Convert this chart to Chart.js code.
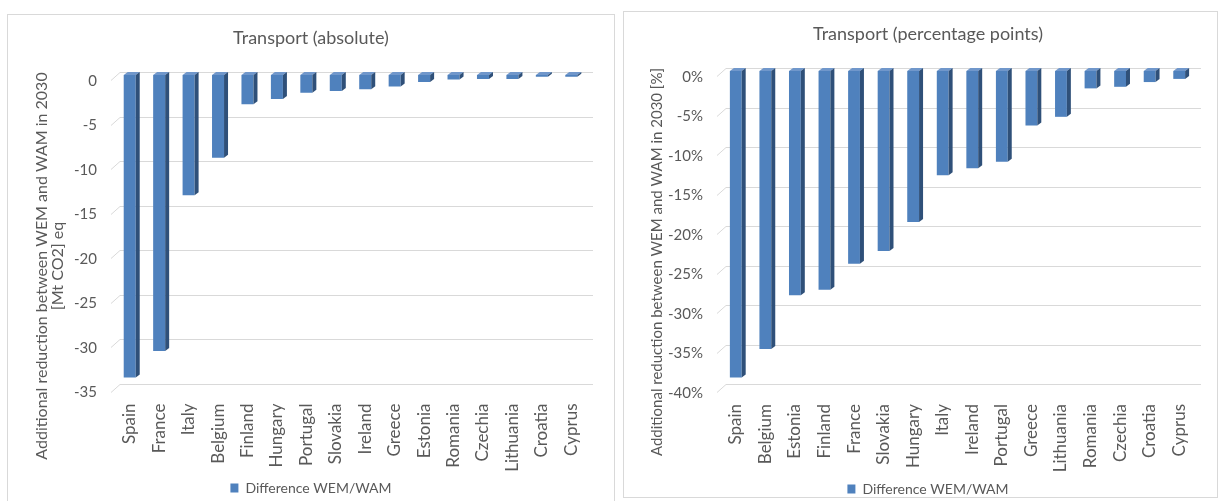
<!DOCTYPE html>
<html>
<head>
<meta charset="utf-8">
<title>Transport – additional reduction WEM/WAM 2030</title>
<script src="https://cdn.jsdelivr.net/npm/chart.js@4.4.1/dist/chart.umd.min.js"></script>
<style>
  html, body { margin: 0; padding: 0; background: #fff; }
  body { width: 1221px; height: 501px; overflow: hidden; position: relative; }
  .panel { position: absolute; border: 1px solid #d9d9d9; background: #fff; box-sizing: border-box; overflow: hidden; }
  #panelAbs { left: 7px; top: 14px; width: 608px; height: 494px; }
  #panelPct { left: 623px; top: 11px; width: 595px; height: 487px; }
  .panel > div { position: relative; }
  #panelAbs > div { width: 606px; height: 490px; }
  #panelPct > div { width: 593px; height: 494px; }
  canvas { display: block; }
</style>
</head>
<body>
<div class="panel" id="panelAbs"><div><canvas id="chartAbs"></canvas></div></div>
<div class="panel" id="panelPct"><div><canvas id="chartPct"></canvas></div></div>

<script>
// ---- data: absolute reduction [Mt CO2 eq] ----
const absCountries = ['Spain', 'France', 'Italy', 'Belgium', 'Finland', 'Hungary', 'Portugal', 'Slovakia',
  'Ireland', 'Greece', 'Estonia', 'Romania', 'Czechia', 'Lithuania', 'Croatia', 'Cyprus'];
const absValues = [-34.0, -31.0, -13.5, -9.3, -3.3, -2.7, -2.0, -1.8, -1.6, -1.3, -0.8, -0.5, -0.45, -0.45, -0.2, -0.2];
const absTickMin = -35;
const absTickMax = 0;
const absTickStep = 5;

// ---- data: reduction in percentage points ----
const pctCountries = ['Spain', 'Belgium', 'Estonia', 'Finland', 'France', 'Slovakia', 'Hungary', 'Italy',
  'Ireland', 'Portugal', 'Greece', 'Lithuania', 'Romania', 'Czechia', 'Croatia', 'Cyprus'];
const pctValues = [-38.8, -35.2, -28.4, -27.7, -24.4, -22.8, -19.1, -13.2, -12.3, -11.5, -6.9, -5.8, -2.2, -2.0, -1.4, -1.0];
const pctTickMin = -40;
const pctTickMax = 0;
const pctTickStep = 5;

const seriesName = 'Difference WEM/WAM';
const absTitle = 'Transport (absolute)';
const pctTitle = 'Transport (percentage points)';
const absAxisTitle = ['Additional reduction between WEM and WAM in 2030', '[Mt CO2] eq'];
const pctAxisTitle = ['Additional reduction between WEM and WAM in 2030 [%]'];

// ---- styling ----
const FONT = 'Lato, "Open Sans", sans-serif';
const TEXT = '#595959';
const GRID = '#d9d9d9';
const FRONT = '#4F81BD';
const SIDE = '#2F5079';
const TOP = '#7097CB';
const DX = 4, DY = 3;   // depth of the pseudo-3D columns

// back-wall gridlines with the slanted floor edge on the left
const backGrid = {
  id: 'backGrid',
  beforeDatasetsDraw(chart) {
    const { ctx, chartArea, scales: { y } } = chart;
    ctx.save();
    ctx.strokeStyle = GRID;
    ctx.lineWidth = 1;
    y.ticks.forEach(t => {
      const py = Math.round(y.getPixelForValue(t.value) - DY) + 0.5;
      ctx.beginPath();
      ctx.moveTo(chartArea.left - 4, py + 8);
      ctx.lineTo(chartArea.left + 5, py);
      ctx.lineTo(chartArea.right + 7, py);
      ctx.stroke();
    });
    ctx.restore();
  }
};

// side and top faces for each column
const bar3d = {
  id: 'bar3d',
  afterDatasetsDraw(chart) {
    const { ctx } = chart;
    chart.getSortedVisibleDatasetMetas().forEach(meta => {
      meta.data.forEach(el => {
        const { x, y, base, width } = el.getProps(['x', 'y', 'base', 'width'], true);
        const L = x - width / 2, R = x + width / 2;
        const top = Math.min(y, base), bot = Math.max(y, base);
        ctx.save();
        // top face
        ctx.fillStyle = TOP;
        ctx.beginPath();
        ctx.moveTo(L, top);
        ctx.lineTo(L + DX, top - DY);
        ctx.lineTo(R + DX, top - DY);
        ctx.lineTo(R, top);
        ctx.closePath();
        ctx.fill();
        // right side face
        ctx.fillStyle = SIDE;
        ctx.beginPath();
        ctx.moveTo(R, top);
        ctx.lineTo(R + DX, top - DY);
        ctx.lineTo(R + DX, bot - DY);
        ctx.lineTo(R, bot);
        ctx.closePath();
        ctx.fill();
        ctx.restore();
      });
    });
  }
};

// rotated value-axis title
const axisTitle = {
  id: 'axisTitle',
  afterDraw(chart, args, opts) {
    const { ctx } = chart;
    ctx.save();
    ctx.fillStyle = TEXT;
    ctx.font = opts.size + 'px ' + FONT;
    ctx.textAlign = 'center';
    ctx.textBaseline = 'middle';
    opts.lines.forEach((line, i) => {
      ctx.save();
      ctx.translate(opts.x + i * opts.lineGap, opts.y);
      ctx.rotate(-Math.PI / 2);
      ctx.fillText(line, 0, 0);
      ctx.restore();
    });
    ctx.restore();
  }
};

function makeChart(canvasId, cfg) {
  return new Chart(document.getElementById(canvasId), {
    type: 'bar',
    data: {
      labels: cfg.labels,
      datasets: [{
        label: seriesName,
        data: cfg.values,
        backgroundColor: FRONT,
        borderWidth: 0,
        categoryPercentage: 0.8,
        barPercentage: cfg.barPct
      }]
    },
    options: {
      responsive: true,
      maintainAspectRatio: false,
      animation: false,
      events: [],
      layout: { padding: { left: cfg.padLeft, right: cfg.padRight, top: 0, bottom: 0 } },
      plugins: {
        title: {
          display: true,
          text: cfg.title,
          color: TEXT,
          font: { family: FONT, size: 18, weight: 'normal' },
          padding: { top: cfg.titleTop, bottom: cfg.titleBottom }
        },
        legend: {
          display: true,
          position: 'bottom',
          labels: {
            color: TEXT,
            font: { family: FONT, size: 14 },
            boxWidth: 8,
            boxHeight: 9,
            padding: 10
          }
        },
        tooltip: { enabled: false },
        axisTitle: cfg.axisTitle
      },
      scales: {
        x: {
          grid: { display: false, drawTicks: false },
          border: { display: false },
          ticks: {
            color: TEXT,
            font: { family: FONT, size: 17 },
            minRotation: 90,
            maxRotation: 90,
            autoSkip: false,
            padding: cfg.xPad
          },
          afterFit(scale) { scale.height = cfg.xHeight; }
        },
        y: {
          min: cfg.min,
          max: cfg.max,
          grid: { display: false, drawTicks: false },
          border: { display: false },
          ticks: {
            stepSize: cfg.step,
            color: TEXT,
            font: { family: FONT, size: 15 },
            padding: 18,
            labelOffset: 6,
            callback: cfg.fmt
          },
          afterFit(scale) { scale.width = cfg.yWidth; }
        }
      }
    },
    plugins: [backGrid, bar3d, axisTitle]
  });
}

makeChart('chartAbs', {
  labels: absCountries,
  values: absValues,
  title: absTitle,
  min: absTickMin, max: absTickMax, step: absTickStep,
  fmt: v => String(v),
  barPct: 0.51,
  padLeft: 28, padRight: 28,
  yWidth: 79,
  titleTop: 12.2, titleBottom: 26.2,
  xHeight: 84.5, xPad: 17,
  axisTitle: { lines: absAxisTitle, x: 34, y: 251, lineGap: 16, size: 16 }
});

makeChart('chartPct', {
  labels: pctCountries,
  values: pctValues,
  title: pctTitle,
  min: pctTickMin, max: pctTickMax, step: pctTickStep,
  fmt: v => v + '%',
  barPct: 0.5,
  padLeft: 28, padRight: 13,
  yWidth: 69,
  titleTop: 11.2, titleBottom: 26.2,
  xHeight: 85, xPad: 17,
  axisTitle: { lines: pctAxisTitle, x: 33, y: 250, lineGap: 15, size: 15 }
});
</script>
</body>
</html>
